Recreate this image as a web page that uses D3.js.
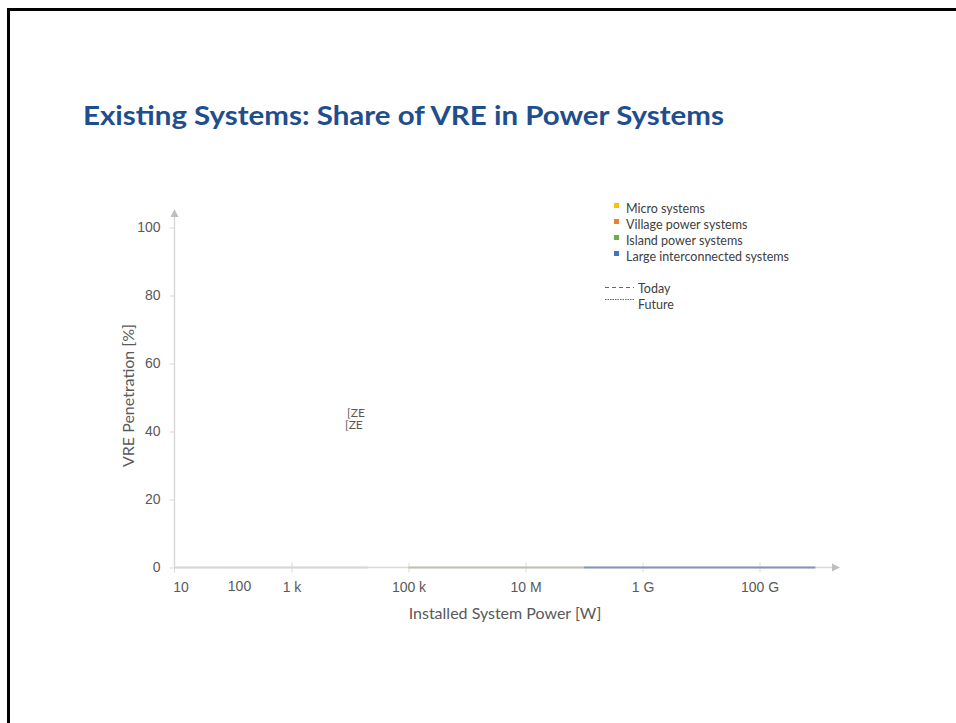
<!DOCTYPE html>
<html>
<head>
<meta charset="utf-8">
<script src="https://cdn.jsdelivr.net/npm/d3@7"></script>
<style>
  html, body { margin: 0; padding: 0; background: #fff; }
  svg { display: block; }
</style>
</head>
<body>
<div id="main"></div>
<script>
// chart values
const systems = ['Micro systems', 'Village power systems', 'Island power systems', 'Large interconnected systems'];
const legendColors = ['#FFC000', '#ED7D31', '#70AD47', '#4472C4'];
const powerFrom = [10, 1e3, 1e5, 1e8];
const powerTo = [1e3, 2e4, 1e8, 9e11];
const penetrationToday = [0, 0, 0, 0];
const lineColors = ['#d6d6d6', '#d6d6d6', '#bcc1ae', '#7f96b4'];
const xTickValues = [1e3, 1e5, 1e7, 1e9, 1e11];
const xTickLabels = ['1 k', '100 k', '10 M', '1 G', '100 G'];
const xExtraTicks = [10, 100];
const xExtraLabels = ['10', '100'];
const yTickValues = [0, 20, 40, 60, 80, 100];
const cellLabels = ['[ZE', '[ZE'];
const cellLabelPower = [8.9e3, 8.2e3];
const cellLabelValue = [44.3, 40.6];
const lineStyles = ['Today', 'Future'];

const WIDTH = 956, HEIGHT = 723;
const TEXTCOLOR = '#595959';
const AXISCOLOR = '#d9d9d9';

const svg = d3.select('#main').append('svg')
    .attr('width', WIDTH)
    .attr('height', HEIGHT)
    .style('font-family', 'Lato, "Open Sans", sans-serif');

// slide frame
svg.append('rect')
    .attr('x', 8.5).attr('y', 9.5)
    .attr('width', 1000).attr('height', 1000)
    .attr('fill', 'none')
    .attr('stroke', '#000')
    .attr('stroke-width', 3);

svg.append('text')
    .attr('x', 83).attr('y', 125)
    .attr('fill', '#1F4E8C')
    .attr('font-size', 27)
    .attr('font-weight', 'bold')
    .attr('textLength', 641)
    .attr('lengthAdjust', 'spacingAndGlyphs')
    .text('Existing Systems: Share of VRE in Power Systems');

const scaleX = d3.scaleLog().domain([10, 1e12]).range([174.5, 818]);
const scaleY = d3.scaleLinear().domain([0, 100]).range([567.5, 227.5]);

// x axis
const axisX = d3.axisBottom(scaleX).tickValues(xTickValues).tickFormat((d, i) => xTickLabels[i]).tickSize(5);
const gx = svg.append('g')
    .attr('transform', `translate(0, ${scaleY(0)})`)
    .call(axisX);
gx.select('.domain').remove();
gx.selectAll('.tick line').attr('y1', -5).attr('y2', 5).attr('stroke', AXISCOLOR);
gx.selectAll('.tick text').attr('fill', TEXTCOLOR).attr('font-size', 14).attr('y', 0).attr('dy', 24);
gx.append('line')
    .attr('x1', scaleX(10)).attr('x2', 832)
    .attr('stroke', AXISCOLOR).attr('stroke-width', 1.5);
gx.append('path')
    .attr('d', 'M832,-4L840,0L832,4Z')
    .attr('fill', '#bfbfbf');
gx.append('line')
    .attr('x1', scaleX(10)).attr('x2', scaleX(10))
    .attr('y1', -5).attr('y2', 5)
    .attr('stroke', AXISCOLOR);
gx.selectAll('.extra')
    .data(xExtraTicks)
    .enter().append('text')
    .attr('class', 'extra')
    .attr('x', (d) => scaleX(d) + 6.5)
    .attr('y', (d, i) => i === 1 ? 23 : 24.5)
    .attr('text-anchor', 'middle')
    .attr('fill', TEXTCOLOR)
    .attr('font-size', 14)
    .text((d, i) => xExtraLabels[i]);

// y axis
const axisY = d3.axisLeft(scaleY).tickValues(yTickValues).tickSize(5);
const gy = svg.append('g')
    .attr('transform', `translate(${scaleX(10)}, 0)`)
    .call(axisY);
gy.select('.domain').remove();
gy.selectAll('.tick line').attr('stroke', AXISCOLOR);
gy.selectAll('.tick text').attr('fill', TEXTCOLOR).attr('font-size', 14).attr('x', -14);
gy.append('line')
    .attr('y1', scaleY(0)).attr('y2', 216)
    .attr('stroke', AXISCOLOR).attr('stroke-width', 1.5);
gy.append('path')
    .attr('d', 'M-4,217L0,209L4,217Z')
    .attr('fill', '#bfbfbf');

// axis titles
svg.append('text')
    .attr('transform', `translate(134, ${scaleY(50) - 2}) rotate(-90)`)
    .attr('text-anchor', 'middle')
    .attr('fill', TEXTCOLOR)
    .attr('font-size', 16)
    .text('VRE Penetration [%]');
svg.append('text')
    .attr('x', 505).attr('y', 619)
    .attr('text-anchor', 'middle')
    .attr('fill', TEXTCOLOR)
    .attr('font-size', 16)
    .text('Installed System Power [W]');

// series (collapsed at today's values)
svg.append('g').selectAll('line')
    .data(systems)
    .enter().append('line')
    .attr('x1', (d, i) => scaleX(powerFrom[i]))
    .attr('x2', (d, i) => scaleX(powerTo[i]))
    .attr('y1', (d, i) => scaleY(penetrationToday[i]))
    .attr('y2', (d, i) => scaleY(penetrationToday[i]))
    .attr('stroke', (d, i) => lineColors[i])
    .attr('stroke-width', 2);

// cell labels
svg.append('g').selectAll('text')
    .data(cellLabels)
    .enter().append('text')
    .attr('x', (d, i) => scaleX(cellLabelPower[i]))
    .attr('y', (d, i) => scaleY(cellLabelValue[i]))
    .attr('fill', TEXTCOLOR)
    .attr('font-size', 12)
    .text((d) => d);

// legend
const legend = svg.append('g').attr('transform', 'translate(614, 0)');
legend.selectAll('rect')
    .data(systems)
    .enter().append('rect')
    .attr('x', 0)
    .attr('y', (d, i) => 203 + i * 16)
    .attr('width', 5).attr('height', 5)
    .attr('fill', (d, i) => legendColors[i]);
legend.selectAll('text.sys')
    .data(systems)
    .enter().append('text')
    .attr('class', 'sys')
    .attr('x', 12)
    .attr('y', (d, i) => 213 + i * 16)
    .attr('fill', '#404040')
    .attr('font-size', 12.5)
    .text((d) => d);
legend.selectAll('line')
    .data(lineStyles)
    .enter().append('line')
    .attr('x1', -9).attr('x2', 20)
    .attr('y1', (d, i) => 287.5 + i * 12)
    .attr('y2', (d, i) => 287.5 + i * 12)
    .attr('stroke', '#404040')
    .attr('stroke-width', 0.8)
    .attr('stroke-dasharray', (d, i) => i === 0 ? '4,3' : '1.5,1');
legend.selectAll('text.style')
    .data(lineStyles)
    .enter().append('text')
    .attr('class', 'style')
    .attr('x', 24)
    .attr('y', (d, i) => 293 + i * 16)
    .attr('fill', '#404040')
    .attr('font-size', 12.5)
    .text((d) => d);
</script>
</body>
</html>
